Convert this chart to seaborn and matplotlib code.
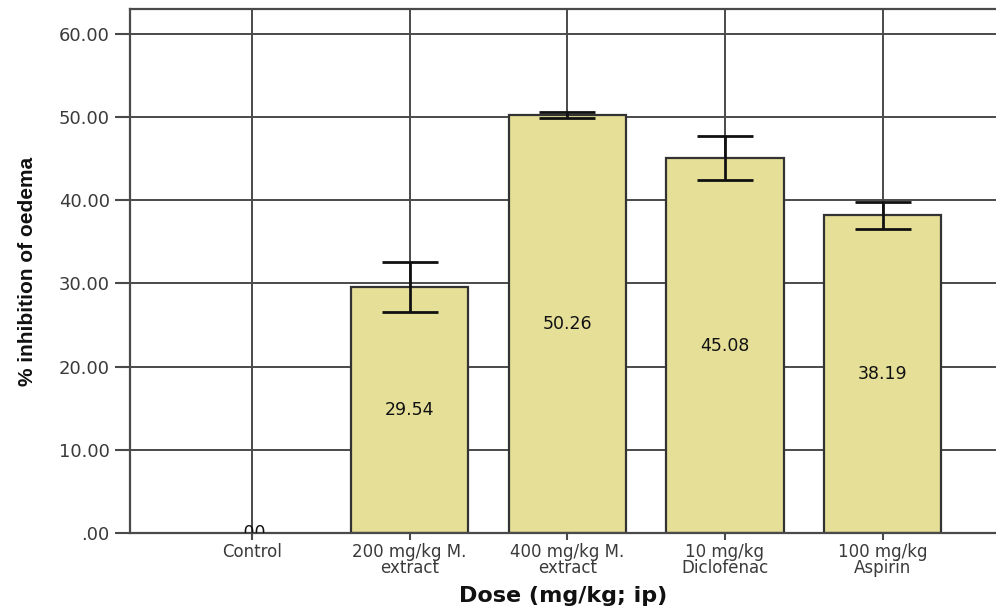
import pandas as pd
import matplotlib.pyplot as plt
import seaborn as sns
from matplotlib.ticker import FuncFormatter

# Data
doses = ['Control', '200 mg/kg M.\nextract', '400 mg/kg M.\nextract',
         '10 mg/kg\nDiclofenac', '100 mg/kg\nAspirin']
inhibition = [0.0, 29.54, 50.26, 45.08, 38.19]
sem = [0.0, 3.0, 0.4, 2.6, 1.65]
yticks = [0, 10, 20, 30, 40, 50, 60]

df = pd.DataFrame({'Dose': doses, 'Inhibition': inhibition, 'SEM': sem})


def spss_fmt(v):
    s = f"{v:.2f}"
    return s[1:] if s.startswith('0') else s


sns.set_style('white')
plt.rcParams['font.family'] = ['Liberation Sans', 'DejaVu Sans']

fig = plt.figure(figsize=(9.96, 6.07), dpi=100)
ax = fig.add_axes([0.1305, 0.1219, 0.8695, 0.8633])

grid_col = '#4a4a4a'
sns.barplot(data=df, x='Dose', y='Inhibition', color='#e6df98', saturation=1,
            edgecolor='#333333', linewidth=1.6, width=0.745, errorbar=None, ax=ax)
# a zero bar leaves no outline
for p in ax.patches:
    if p.get_height() == 0:
        p.set_visible(False)

# error bars (SEM)
has_err = df[df['SEM'] > 0]
ax.errorbar(has_err['Dose'], has_err['Inhibition'], yerr=has_err['SEM'],
            fmt='none', ecolor='#111111', elinewidth=2, capsize=20, capthick=2,
            zorder=5)

# value labels in the middle of bars
for d, v in zip(doses, inhibition):
    ax.text(d, v / 2, spss_fmt(v), ha='center', va='center', fontsize=12.5,
            color='#111111', family='DejaVu Sans', zorder=6, clip_on=True)

ax.set_ylim(0, 63)
ax.set_xlim(-0.774, 4.72)
ax.set_yticks(yticks)
ax.yaxis.set_major_formatter(FuncFormatter(lambda v, p: spss_fmt(v)))

ax.set_axisbelow(True)
ax.grid(True, color=grid_col, linewidth=1.4)
for side in ['left', 'bottom', 'top']:
    ax.spines[side].set_visible(True)
    ax.spines[side].set_color(grid_col)
    ax.spines[side].set_linewidth(1.6)
ax.spines['right'].set_visible(False)

ax.tick_params(axis='y', direction='out', length=11, width=1.5, color=grid_col,
               labelsize=13, labelcolor='#3a3a3a', left=True)
ax.tick_params(axis='x', direction='out', length=5, width=1.5, color=grid_col,
               labelsize=12, labelcolor='#3a3a3a', bottom=True, pad=2)
for lab in ax.get_yticklabels() + ax.get_xticklabels():
    lab.set_family('DejaVu Sans')
for lab in ax.get_xticklabels():
    lab.set_linespacing(0.9)

ax.set_xlabel('Dose (mg/kg; ip)', fontsize=16, fontweight='bold',
              family='DejaVu Sans', color='#111111', labelpad=6)
ax.set_ylabel('% inhibition of oedema', fontsize=15, fontweight='bold',
              family=['Liberation Sans Narrow', 'DejaVu Sans Condensed',
                      'Liberation Sans'],
              fontstretch='condensed', color='#111111', labelpad=16)

fig.savefig('out.png', dpi=100)
